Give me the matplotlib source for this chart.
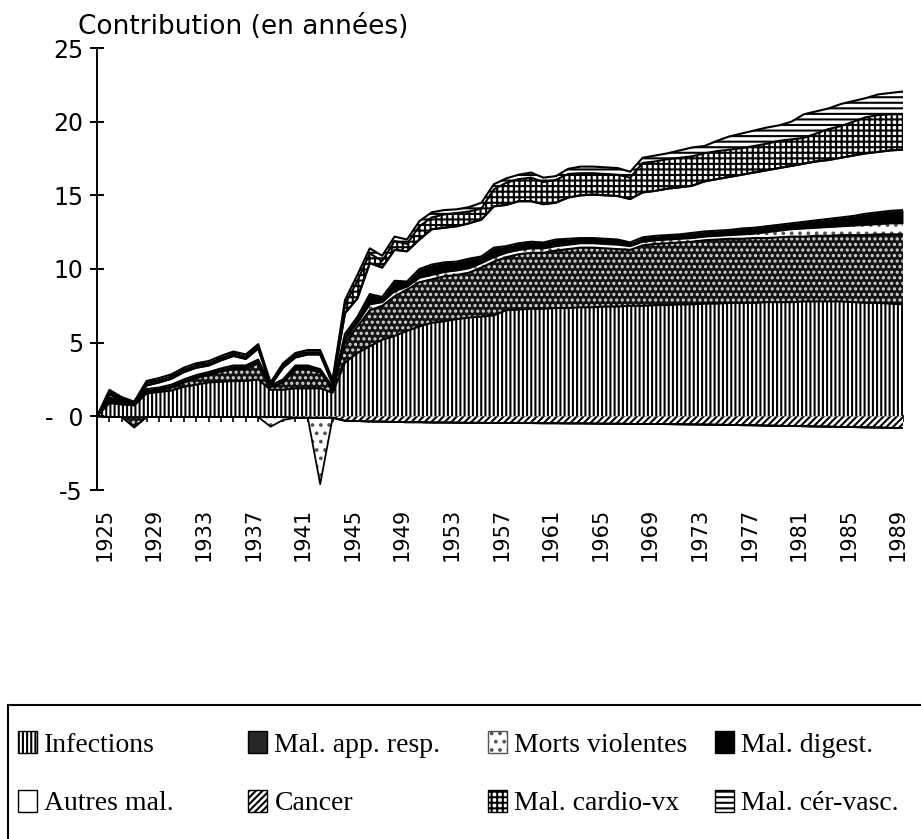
import numpy as np
import matplotlib.pyplot as plt
from matplotlib.patches import Patch, Rectangle

plt.rcParams['hatch.linewidth'] = 1.5
plt.rcParams['font.family'] = ['DejaVu Sans']

# years 1925 .. 1990
years = list(range(1925, 1991))
label_years = list(range(1925, 1990, 4))

infections = [0, .9, .8, .75, 1.55, 1.65, 1.75, 2.0, 2.15, 2.3, 2.35, 2.4, 2.4, 2.5, 1.8, 1.8, 1.9, 1.9, 1.9, 1.6,
              3.65, 4.3, 4.75, 5.2, 5.45, 5.8, 6.1, 6.35, 6.45, 6.6, 6.7, 6.77, 6.85, 7.2, 7.25, 7.3, 7.3, 7.35,
              7.35, 7.4, 7.4, 7.45, 7.45, 7.5, 7.5, 7.55, 7.55, 7.6, 7.6, 7.65, 7.65, 7.7, 7.7, 7.7, 7.75, 7.75,
              7.75, 7.8, 7.8, 7.8, 7.8, 7.75, 7.7, 7.7, 7.65, 7.6]
mal_resp = [0, .1, .05, -.7, .05, .1, .2, .3, .45, .5, .7, .8, .8, 1.1, .2, .5, 1.3, 1.3, 1.1, .2,
            1.35, 1.8, 2.45, 2.3, 2.7, 2.8, 3.0, 2.95, 3.05, 3.0, 3.05, 3.33, 3.65, 3.6, 3.75, 3.8, 3.8, 3.9,
            4.0, 4.05, 4.05, 3.95, 3.9, 3.8, 4.1, 4.15, 4.2, 4.2, 4.25, 4.3, 4.35, 4.35, 4.35, 4.4, 4.35, 4.4,
            4.45, 4.4, 4.45, 4.45, 4.5, 4.55, 4.6, 4.65, 4.7, 4.75]
morts_viol = [0, .1, .05, .05, .1, .05, .05, .05, .05, .05, .05, .05, .05, .05, -.65, -.2, .05, .05, -4.5, .05,
              .25, .25, .4, .25, .35, .2, .3, .3, .3, .3, .3, .3, .3, .3, .3, .3, .3, .3,
              .3, .3, .3, .3, .3, .25, .25, .25, .25, .25, .25, .25, .25, .25, .3, .3, .4, .45,
              .5, .55, .55, .6, .6, .65, .7, .7, .75, .75]
mal_digest = [0, .2, .1, .05, .15, .15, .15, .15, .15, .15, .15, .2, .2, .2, .1, .2, .2, .2, .2, .15,
              .35, .4, .7, .35, .7, .35, .6, .7, .65, .6, .65, .45, .65, .45, .45, .45, .4, .45,
              .4, .35, .35, .35, .35, .25, .3, .3, .3, .3, .35, .35, .35, .35, .4, .4, .4, .4,
              .4, .45, .5, .55, .6, .65, .75, .8, .85, .9]
autres_mal = [0, .2, .1, .05, .25, .35, .4, .5, .5, .45, .55, .65, .45, .75, 0, .8, .55, .75, 1.0, .2,
              1.4, 1.25, 2.1, 2.0, 2.1, 2.05, 2.0, 2.4, 2.35, 2.4, 2.4, 2.5, 2.8, 2.8, 2.85, 2.75, 2.6, 2.5,
              2.8, 2.9, 2.95, 2.95, 2.95, 2.95, 3.05, 3.05, 3.15, 3.2, 3.2, 3.4, 3.5, 3.6, 3.65, 3.75, 3.8, 3.85,
              3.9, 3.95, 4.0, 4.0, 4.05, 4.1, 4.1, 4.1, 4.1, 4.1]
cancer = [0, -.05, -.05, -.05, -.05, -.05, -.05, -.05, -.05, -.05, -.05, -.05, -.05, -.05, -.05, -.05,
          -.1, -.1, -.1, -.1,
          -.3, -.32, -.35, -.36, -.38, -.4, -.4, -.42, -.42, -.43, -.44, -.44, -.45, -.45, -.46, -.46, -.47, -.47,
          -.48, -.48, -.49, -.5, -.5, -.51, -.52, -.52, -.53, -.54, -.55, -.56, -.57, -.58, -.6, -.61, -.63, -.64,
          -.66, -.67, -.69, -.7, -.72, -.73, -.75, -.76, -.78, -.8]
mal_cardio = [0, .15, .1, .05, .15, .15, .15, .15, .15, .15, .15, .15, .15, .15, .1, .15, .15, .15, .15, .15,
              .6, 1.2, .65, .45, .6, .5, .9, .8, .9, .9, .8, .75, 1.15, 1.5, 1.5, 1.6, 1.5, 1.55,
              1.6, 1.5, 1.45, 1.45, 1.45, 1.45, 2.0, 2.0, 2.0, 2.0, 2.0, 1.9, 1.9, 1.85, 1.8, 1.8, 1.8, 1.85,
              1.8, 1.75, 1.9, 2.1, 2.15, 2.3, 2.45, 2.5, 2.45, 2.4]
mal_cervasc = [0, .15, .1, .05, .15, .15, .15, .15, .15, .15, .15, .15, .15, .15, .1, .15, .15, .15, .15, .15,
               .3, .4, .35, .35, .3, .3, .35, .35, .3, .25, .3, .4, .35, .3, .3, .35, .3, .25,
               .35, .45, .45, .45, .45, .4, .35, .4, .4, .5, .6, .5, .7, .9, 1.0, 1.05, 1.1, 1.05,
               1.2, 1.6, 1.5, 1.4, 1.5, 1.4, 1.3, 1.4, 1.45, 1.55]

labels = ['Infections', 'Mal. app. resp.', 'Morts violentes', 'Mal. digest.',
          'Autres mal.', 'Cancer', 'Mal. cardio-vx', 'Mal. cér-vasc.']
values = [infections, mal_resp, morts_viol, mal_digest, autres_mal, cancer, mal_cardio, mal_cervasc]
styles = [
    dict(facecolor='white', edgecolor='black', hatch='||||'),
    dict(facecolor='#141414', edgecolor='#d8d8d8', hatch='...'),
    dict(facecolor='white', edgecolor='#555555', hatch='..'),
    dict(facecolor='black', edgecolor='black'),
    dict(facecolor='white', edgecolor='black'),
    dict(facecolor='white', edgecolor='black', hatch='/////'),
    dict(facecolor='white', edgecolor='black', hatch='+++'),
    dict(facecolor='white', edgecolor='black', hatch='---'),
]

fig = plt.figure(figsize=(9.21, 8.39), dpi=100)
ax = fig.add_axes([97 / 921, 1 - 490 / 839, 806 / 921, 442 / 839])

x = np.array(years)
pos = np.zeros(len(years))
for v, st in zip(values, styles):
    p = np.clip(np.array(v), 0, None)
    ax.fill_between(x, pos, pos + p, linewidth=0, **st)
    pos = pos + p
    ax.plot(x, pos, color='black', lw=1.5)

# negative contributions go below zero (cancer first)
neg = np.zeros(len(years))
for i in [5, 1, 2]:
    n = np.clip(np.array(values[i]), None, 0)
    ax.fill_between(x, neg, neg + n, linewidth=0, **styles[i])
    neg = neg + n
    ax.plot(x, neg, color='black', lw=1.3)

ax.set_xlim(1925, 1990)
ax.set_ylim(-5, 25)
for s in ['top', 'right', 'bottom']:
    ax.spines[s].set_visible(False)
ax.spines['left'].set_linewidth(1.4)

ax.set_yticks(range(-5, 26, 5))
ax.set_yticklabels(['-5', '-  0', '5', '10', '15', '20', '25'], fontsize=17)
ax.tick_params(axis='y', direction='inout', length=10, width=1.4, pad=5)

ax.set_xticks([yr + 0.6 for yr in label_years])
ax.set_xticklabels([str(yr) for yr in label_years], rotation=90, fontsize=15)
ax.tick_params(axis='x', length=0, pad=13)

# small year ticks along the zero line
sec = ax.secondary_xaxis(5 / 30)
sec.set_xticks(years[1:])
sec.tick_params(direction='out', length=4, width=1.2, labelbottom=False, labeltop=False)
sec.spines['bottom'].set_linewidth(1.4)
sec.spines['top'].set_linewidth(1.4)

fig.text(78 / 921, 1 - 27 / 839, 'Contribution (en années)', fontsize=19, va='center', ha='left')

# legend, 4 columns of 2 rows inside a box
handles = [Patch(label=l, **st) for l, st in zip(labels, styles)]
handles[1] = Patch(label=labels[1], facecolor='#262626', edgecolor='black')
col_x = [18, 248, 488, 715]
for c in range(4):
    fig.legend(handles=[handles[c], handles[c + 4]], loc='upper left',
               bbox_to_anchor=(col_x[c] / 921, 1 - 731 / 839), frameon=False,
               prop={'family': 'Liberation Serif', 'size': 20},
               handlelength=0.7, handleheight=0.85, handletextpad=0.25,
               labelspacing=1.15, borderpad=0, borderaxespad=0)
fig.patches.append(Rectangle((8 / 921, -0.01), 1.0, 1 - 705 / 839 + 0.01, transform=fig.transFigure,
                             fill=False, edgecolor='black', lw=1.5))

fig.savefig('out.png', dpi=100)
